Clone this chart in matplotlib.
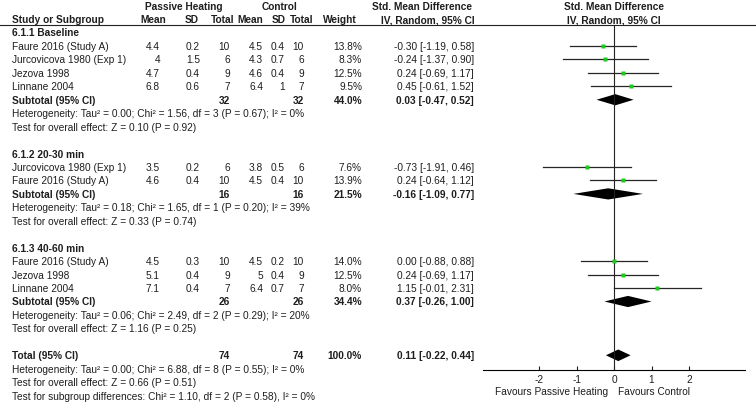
import numpy as np
import matplotlib
matplotlib.use("Agg")
import matplotlib.pyplot as plt
from matplotlib.patches import Polygon

plt.rcParams['font.family'] = ['Liberation Sans', 'DejaVu Sans']
plt.rcParams['axes.unicode_minus'] = False

# data
groups = ['6.1.1 Baseline', '6.1.2 20-30 min', '6.1.3 40-60 min']
studies = [['Faure 2016 (Study A)', 'Jurcovicova 1980 (Exp 1)', 'Jezova 1998', 'Linnane 2004'],
           ['Jurcovicova 1980 (Exp 1)', 'Faure 2016 (Study A)'],
           ['Faure 2016 (Study A)', 'Jezova 1998', 'Linnane 2004']]
heat_mean = [[4.4, 4, 4.7, 6.8], [3.5, 4.6], [4.5, 5.1, 7.1]]
heat_sd = [[0.2, 1.5, 0.4, 0.6], [0.2, 0.4], [0.3, 0.4, 0.4]]
heat_n = [[10, 6, 9, 7], [6, 10], [10, 9, 7]]
ctrl_mean = [[4.5, 4.3, 4.6, 6.4], [3.8, 4.5], [4.5, 5, 6.4]]
ctrl_sd = [[0.4, 0.7, 0.4, 1], [0.5, 0.4], [0.2, 0.4, 0.7]]
ctrl_n = [[10, 6, 9, 7], [6, 10], [10, 9, 7]]
weight = [[13.8, 8.3, 12.5, 9.5], [7.6, 13.9], [14.0, 12.5, 8.0]]
smd = [[-0.30, -0.24, 0.24, 0.45], [-0.73, 0.24], [0.00, 0.24, 1.15]]
ci_lo = [[-1.19, -1.37, -0.69, -0.61], [-1.91, -0.64], [-0.88, -0.69, -0.01]]
ci_hi = [[0.58, 0.90, 1.17, 1.52], [0.46, 1.12], [0.88, 1.17, 2.31]]

sub_weight = [44.0, 21.5, 34.4]
sub_smd = [0.03, -0.16, 0.37]
sub_lo = [-0.47, -1.09, -0.26]
sub_hi = [0.52, 0.77, 1.00]
sub_het = ['Heterogeneity: Tau\u00b2 = 0.00; Chi\u00b2 = 1.56, df = 3 (P = 0.67); I\u00b2 = 0%',
           'Heterogeneity: Tau\u00b2 = 0.18; Chi\u00b2 = 1.65, df = 1 (P = 0.20); I\u00b2 = 39%',
           'Heterogeneity: Tau\u00b2 = 0.06; Chi\u00b2 = 2.49, df = 2 (P = 0.29); I\u00b2 = 20%']
sub_test = ['Test for overall effect: Z = 0.10 (P = 0.92)',
            'Test for overall effect: Z = 0.33 (P = 0.74)',
            'Test for overall effect: Z = 1.16 (P = 0.25)']

total_smd, total_lo, total_hi = 0.11, -0.22, 0.44
total_weight = 100.0
total_notes = ['Heterogeneity: Tau\u00b2 = 0.00; Chi\u00b2 = 6.88, df = 8 (P = 0.55); I\u00b2 = 0%',
               'Test for overall effect: Z = 0.66 (P = 0.51)',
               'Test for subgroup differences: Chi\u00b2 = 1.10, df = 2 (P = 0.58), I\u00b2 = 0%']
xticks = [-2, -1, 0, 1, 2]

# layout (pixels)
W, H = 756, 406
def rowy(r):
    return 33.5 + 13.45 * r

col_right = [160, 200, 230, 263, 285, 304, 362]
ci_right = 474
fs = 7.3
txt = '#1e1e1e'
green = '#1ec81e'

fig = plt.figure(figsize=(W / 100, H / 100), dpi=100)
ta = fig.add_axes([0, 0, 1, 1])
ta.set_xlim(0, W)
ta.set_ylim(H, 0)
ta.axis('off')

x0, x1 = 483.3, 745.0
fa = fig.add_axes([x0 / W, 0, (x1 - x0) / W, 1])
fa.set_xlim(-3.5, 3.5)
fa.set_ylim(H, 0)
fa.patch.set_alpha(0)
for s in ['top', 'left', 'right']:
    fa.spines[s].set_visible(False)
axis_y = 370.7
fa.spines['bottom'].set_position(('data', axis_y))
fa.spines['bottom'].set_linewidth(0.8)
fa.set_yticks([])
fa.set_xticks(xticks)
fa.set_xticklabels([str(t) for t in xticks])
fa.tick_params(axis='x', direction='in', length=3, width=0.8, pad=3,
               labelsize=fs, colors=txt)

def t(x, y, s, ha='left', bold=False):
    ta.text(x, y, s, ha=ha, va='center', fontsize=fs, color=txt,
            fontweight='bold' if bold else 'normal')

# header
t(184, rowy(-2), 'Passive Heating', 'center', True)
t(279, rowy(-2), 'Control', 'center', True)
t(422, rowy(-2), 'Std. Mean Difference', 'center', True)
t(614, rowy(-2), 'Std. Mean Difference', 'center', True)
t(12, rowy(-1), 'Study or Subgroup', 'left', True)
for x, s in zip([153, 192, 223, 250, 279, 301.5, 339.5],
                ['Mean', 'SD', 'Total', 'Mean', 'SD', 'Total', 'Weight']):
    t(x, rowy(-1), s, 'center', True)
t(428, rowy(-1), 'IV, Random, 95% CI', 'center', True)
t(614, rowy(-1), 'IV, Random, 95% CI', 'center', True)
ta.plot([0, W], [25.8, 25.8], color='#222222', lw=0.8)

fa.plot([0, 0], [25.8, axis_y], color='#222222', lw=0.8)

r = 0
for g in range(len(groups)):
    t(12, rowy(r), groups[g], 'left', True)
    r += 1
    for i, name in enumerate(studies[g]):
        y = rowy(r)
        t(12, y, name)
        vals = ['%g' % heat_mean[g][i], '%g' % heat_sd[g][i], str(heat_n[g][i]),
                '%g' % ctrl_mean[g][i], '%g' % ctrl_sd[g][i], str(ctrl_n[g][i]),
                '%.1f%%' % weight[g][i]]
        for x, s in zip(col_right, vals):
            t(x, y, s, 'right')
        t(ci_right, y, '%.2f [%.2f, %.2f]' % (smd[g][i], ci_lo[g][i], ci_hi[g][i]), 'right')
        fa.plot([ci_lo[g][i], ci_hi[g][i]], [y, y], color='#262626', lw=0.9)
        fa.plot(smd[g][i], y, marker='s', ms=0.8 * np.sqrt(weight[g][i]),
                color=green, mec='none', zorder=3)
        r += 1
    y = rowy(r)
    t(12, y, 'Subtotal (95% CI)', 'left', True)
    t(col_right[2], y, str(sum(heat_n[g])), 'right', True)
    t(col_right[5], y, str(sum(ctrl_n[g])), 'right', True)
    t(col_right[6], y, '%.1f%%' % sub_weight[g], 'right', True)
    t(ci_right, y, '%.2f [%.2f, %.2f]' % (sub_smd[g], sub_lo[g], sub_hi[g]), 'right', True)
    fa.add_patch(Polygon([(sub_lo[g], y), (sub_smd[g], y - 5.6), (sub_hi[g], y),
                          (sub_smd[g], y + 5.6)], closed=True, color='black', lw=0))
    r += 1
    t(12, rowy(r), sub_het[g])
    r += 1
    t(12, rowy(r), sub_test[g])
    r += 2

y = rowy(r)
t(12, y, 'Total (95% CI)', 'left', True)
t(col_right[2], y, str(sum(sum(n) for n in heat_n)), 'right', True)
t(col_right[5], y, str(sum(sum(n) for n in ctrl_n)), 'right', True)
t(col_right[6], y, '%.1f%%' % total_weight, 'right', True)
t(ci_right, y, '%.2f [%.2f, %.2f]' % (total_smd, total_lo, total_hi), 'right', True)
fa.add_patch(Polygon([(total_lo, y), (total_smd, y - 5.8), (total_hi, y),
                      (total_smd, y + 5.8)], closed=True, color='black', lw=0))
for note in total_notes:
    r += 1
    t(12, rowy(r), note)

t(608.5, 391.7, 'Favours Passive Heating', 'right')
t(618.3, 391.7, 'Favours Control', 'left')

fig.savefig('out.png', dpi=100)
